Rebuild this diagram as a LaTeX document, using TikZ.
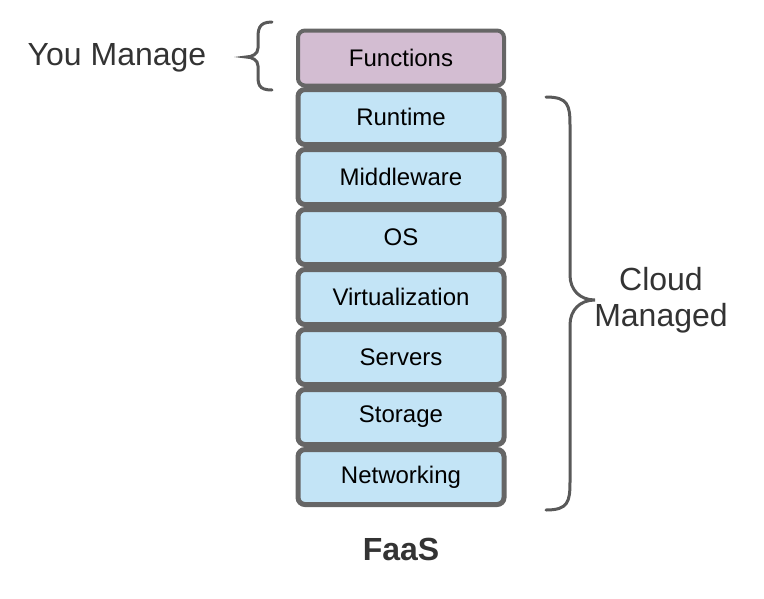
\documentclass[tikz,border=0pt]{standalone}
\usepackage{fontspec}
\setmainfont{Liberation Sans}
\begin{document}
\begin{tikzpicture}[x=1pt,y=-1pt,
  layer/.style={draw=black!60,line width=5pt,rounded corners=7pt,minimum width=206pt,minimum height=55pt,inner sep=0pt,font=\fontsize{24}{28}\selectfont,fill=blueL},
  lbl/.style={text=black!80,font=\fontsize{32}{36}\selectfont,align=center},
  brace/.style={draw=black!65,line width=3pt,line cap=round}]
\definecolor{blueL}{HTML}{C3E4F6}
\definecolor{purpL}{HTML}{D3BDD2}
\useasboundingbox (0,0) rectangle (764,598);
\node[layer,fill=purpL,line width=4pt] (fn) at (401,58) {Functions};
\foreach \n/\t [count=\i] in {rt/Runtime,mw/Middleware,os/OS,vi/Virtualization,sv/Servers,st/Storage,nw/Networking}{
  \node[layer] (\n) at (401,{57+60*\i}) {\t};
}
\node[lbl] (you) at (117,58) {You Manage};
\node[lbl] (cloud) at (661,300) {Cloud\\Managed};
\node[font=\bfseries\fontsize{32}{36}\selectfont,text=black!80] (faas) at (401,549) {FaaS};
\draw[brace] (272,22) .. controls (258,22) and (258,30) .. (258,40) -- (258,48) .. controls (258,54) and (252,57) .. (246,57)
  .. controls (252,57) and (258,60) .. (258,66) -- (258,74) .. controls (258,84) and (258,90) .. (272,90);
\draw[brace] (546,97) .. controls (568,97) and (570,105) .. (570,125) -- (570,275) .. controls (570,290) and (580,300) .. (595,300)
  .. controls (580,300) and (570,310) .. (570,325) -- (570,482) .. controls (570,502) and (568,510) .. (546,510);
\end{tikzpicture}
\end{document}
